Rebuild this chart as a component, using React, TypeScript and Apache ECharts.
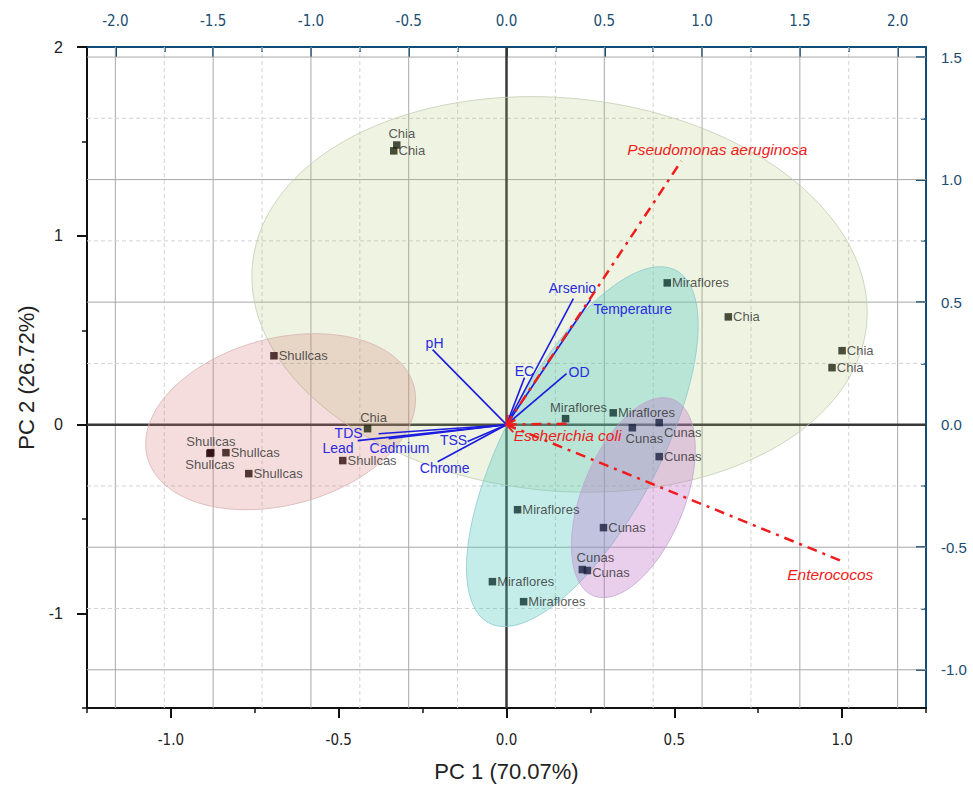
import React, { useEffect, useRef } from "react";
import * as echarts from "echarts";

// ---------- data ----------
const groupNames = ["Chia", "Shullcas", "Miraflores", "Cunas"];

const chiaScores = [[-0.327, 1.481], [-0.336, 1.45], [0.661, 0.571], [1.0, 0.392], [0.97, 0.302], [-0.414, -0.021]];
const shullcasScores = [[-0.693, 0.365], [-0.881, -0.148], [-0.884, -0.152], [-0.836, -0.148], [-0.768, -0.259], [-0.488, -0.19]];
const mirafloresScores = [[0.479, 0.751], [0.176, 0.032], [0.318, 0.063], [0.033, -0.45], [-0.042, -0.831], [0.051, -0.937]];
const cunasScores = [[0.375, -0.016], [0.455, 0.011], [0.455, -0.169], [0.289, -0.545], [0.226, -0.767], [0.241, -0.772]];

const variableNames = ["pH", "EC", "Arsenio", "Temperature", "OD", "TDS", "Lead", "Cadmium", "TSS", "Chrome"];
const variableLoadings = [[-0.378, 0.306], [0.092, 0.192], [0.342, 0.514], [0.429, 0.51], [0.307, 0.208], [-0.654, -0.037], [-0.761, -0.065], [-0.603, -0.057], [-0.199, -0.069], [-0.352, -0.151]];
const bacteriaNames = ["Pseudomonas aeruginosa", "Escherichia coli", "Enterococos"];
const bacteriaLoadings = [[0.894, 1.076], [0.312, 0.004], [1.722, -0.559]];

// confidence ellipses (PC1/PC2 units): centre and two conjugate semi-axis vectors
const ellipseCenters = [[0.158, 0.69], [-0.673, 0.016], [0.226, -0.116], [0.378, -0.386]];
const ellipseAxisU = [[0.915, -0.16], [0.397, 0.189], [0.279, 0.933], [0.1186, 0.5194]];
const ellipseAxisV = [[0.0574, 1.035], [-0.0643, 0.426], [-0.203, 0.192], [-0.1413, 0.1019]];

const pc1Ticks = [-1, -0.5, 0, 0.5, 1];
const pc1Minor = [-1.25, -0.75, -0.25, 0.25, 0.75, 1.25];
const pc2Ticks = [-1, 0, 1, 2];
const pc2Minor = [-1.5, -0.5, 0.5, 1.5];
const topTicks = [-2, -1.5, -1, -0.5, 0, 0.5, 1, 1.5, 2];
const topMinor = [-1.75, -1.25, -0.75, -0.25, 0.25, 0.75, 1.25, 1.75];
const rightTicks = [-1, -0.5, 0, 0.5, 1, 1.5];
const rightMinor = [-0.75, -0.25, 0.25, 0.75, 1.25];

// ---------- styles ----------
const FONT = '"Liberation Sans", Arial, sans-serif';
const NARROW = '"Liberation Sans Narrow", "Arial Narrow", "DejaVu Sans Condensed", "Liberation Sans", Arial, sans-serif';
const BLUE_AXIS = "#0f4d78";
const BLUE_TEXT = "#1b4d72";
const markerColors = ["#1c2410", "#2b0b0b", "#10302c", "#1c2040"];
const ellipseFill = ["rgba(170,198,105,0.2)", "rgba(210,120,115,0.25)", "rgba(70,200,190,0.32)", "rgba(190,110,200,0.33)"];
const ellipseStroke = ["rgba(195,205,180,0.8)", "rgba(215,180,180,0.8)", "rgba(140,200,210,0.8)", "rgba(190,165,210,0.8)"];

type Place = { pos: string; off?: number[] };
const chiaPlace: Place[] = [{ pos: "top", off: [5, 0] }, { pos: "right" }, { pos: "right" }, { pos: "right" }, { pos: "right" }, { pos: "top", off: [6, 0] }];
const shullcasPlace: Place[] = [{ pos: "right" }, { pos: "top" }, { pos: "bottom" }, { pos: "right" }, { pos: "right" }, { pos: "right" }];
const mirafloresPlace: Place[] = [{ pos: "right" }, { pos: "top", off: [13, 0] }, { pos: "right" }, { pos: "right" }, { pos: "right" }, { pos: "right" }];
const cunasPlace: Place[] = [{ pos: "bottom", off: [12, 0] }, { pos: "right", off: [0, 10] }, { pos: "right" }, { pos: "right" }, { pos: "top", off: [13, -1] }, { pos: "right", off: [0, 2] }];

// text offsets (px) from vector tip: dx, dy, align
const varLabelOffset: [number, number, string][] = [
  [2, -7, "center"], [0, -7, "center"], [-1, -11, "center"], [3, 9, "left"], [2, -2, "left"],
  [-16, -1, "right"], [-4, 7, "right"], [11, 9, "center"], [-14, -2, "center"], [7, 6, "center"],
];
const bactLabelOffset: [number, number, string][] = [[36, -11, "center"], [0, 12, "center"], [-13, 13, "center"]];

function scatterSeries(name: string, pts: number[][], place: Place[], color: string) {
  return {
    type: "scatter",
    name,
    xAxisIndex: 0,
    yAxisIndex: 0,
    z: 5,
    symbol: "rect",
    symbolSize: 7.5,
    itemStyle: { color },
    label: { show: true, formatter: name, fontSize: 13, fontFamily: FONT, color: "#2e2e2e", distance: 1 },
    data: pts.map((p, i) => ({
      value: p,
      label: { position: place[i].pos, offset: place[i].off || [0, 0] },
    })),
  };
}

export default function App() {
  const ref = useRef<HTMLDivElement>(null);
  useEffect(() => {
    if (!ref.current) return;
    const chart = echarts.init(ref.current, undefined, { renderer: "svg" });

    const vGrid = [...topTicks.filter((v) => v !== 0).map((v) => [v, 0, 1]), ...topMinor.map((v) => [v, 0, 0])];
    const hGrid = [...rightTicks.filter((v) => v !== 0).map((v) => [0, v, 1]), ...rightMinor.map((v) => [0, v, 0])];

    const option: any = {
      animation: false,
      backgroundColor: "#ffffff",
      grid: { left: 87, right: 47, top: 47, bottom: 78, containLabel: false, outerBoundsMode: "none" },
      xAxis: [
        {
          type: "value", position: "bottom", min: -1.25, max: 1.25,
          name: "PC 1 (70.07%)", nameLocation: "middle", nameGap: 52,
          nameTextStyle: { fontSize: 22, color: "#222", fontFamily: FONT },
          axisLine: { show: true, onZero: false, lineStyle: { color: "#111", width: 2 } },
          axisTick: { show: true, inside: false, length: 10, customValues: pc1Ticks, lineStyle: { color: "#111", width: 2 } },
          axisLabel: { show: true, customValues: pc1Ticks, formatter: (v: number) => v.toFixed(1), margin: 24, fontSize: 15, fontFamily: NARROW, color: "#222" },
          splitLine: { show: false },
        },
        {
          type: "value", position: "top", min: -2.145, max: 2.145,
          axisLine: { show: true, onZero: false, lineStyle: { color: BLUE_AXIS, width: 2 } },
          axisTick: { show: true, inside: true, length: 10, customValues: topTicks, lineStyle: { color: BLUE_AXIS, width: 2 } },
          axisLabel: { show: true, customValues: topTicks, formatter: (v: number) => v.toFixed(1), margin: 19, fontSize: 15, fontFamily: NARROW, color: BLUE_TEXT },
          splitLine: { show: false },
        },
        {
          type: "value", position: "bottom", min: -1.25, max: 1.25,
          axisLine: { show: false, onZero: false },
          axisTick: { show: true, inside: false, length: 5, customValues: pc1Minor, lineStyle: { color: "#111", width: 1.5 } },
          axisLabel: { show: false }, splitLine: { show: false },
        },
        {
          type: "value", position: "top", min: -2.145, max: 2.145,
          axisLine: { show: false, onZero: false },
          axisTick: { show: true, inside: true, length: 5, customValues: topMinor, lineStyle: { color: BLUE_AXIS, width: 1.5 } },
          axisLabel: { show: false }, splitLine: { show: false },
        },
      ],
      yAxis: [
        {
          type: "value", position: "left", min: -1.5, max: 2,
          name: "PC 2 (26.72%)", nameLocation: "middle", nameGap: 48,
          nameTextStyle: { fontSize: 22, color: "#222", fontFamily: FONT },
          axisLine: { show: true, onZero: false, lineStyle: { color: "#111", width: 2 } },
          axisTick: { show: true, inside: false, length: 10, customValues: pc2Ticks, lineStyle: { color: "#111", width: 2 } },
          axisLabel: { show: true, customValues: pc2Ticks, formatter: (v: number) => String(v), margin: 24, fontSize: 16, fontFamily: FONT, color: "#222" },
          splitLine: { show: false },
        },
        {
          type: "value", position: "right", min: -1.156, max: 1.541,
          axisLine: { show: true, onZero: false, lineStyle: { color: BLUE_AXIS, width: 2 } },
          axisTick: { show: true, inside: true, length: 10, customValues: rightTicks, lineStyle: { color: BLUE_AXIS, width: 2 } },
          axisLabel: { show: true, customValues: rightTicks, formatter: (v: number) => v.toFixed(1), margin: 15, fontSize: 15, fontFamily: FONT, color: BLUE_TEXT },
          splitLine: { show: false },
        },
        {
          type: "value", position: "left", min: -1.5, max: 2,
          axisLine: { show: false, onZero: false },
          axisTick: { show: true, inside: false, length: 5, customValues: pc2Minor, lineStyle: { color: "#111", width: 1.5 } },
          axisLabel: { show: false }, splitLine: { show: false },
        },
        {
          type: "value", position: "right", min: -1.156, max: 1.541,
          axisLine: { show: false, onZero: false },
          axisTick: { show: true, inside: true, length: 5, customValues: rightMinor, lineStyle: { color: BLUE_AXIS, width: 1.5 } },
          axisLabel: { show: false }, splitLine: { show: false },
        },
      ],
      series: [
        // vertical grid lines (top axis)
        {
          type: "custom", xAxisIndex: 1, yAxisIndex: 1, z: 1, silent: true,
          data: vGrid,
          renderItem: (params: any, api: any) => {
            const x = api.coord([api.value(0), 0])[0];
            const cs = params.coordSys;
            const major = api.value(2) === 1;
            return {
              type: "line",
              shape: { x1: x, y1: cs.y, x2: x, y2: cs.y + cs.height },
              style: { stroke: major ? "#a8a8a8" : "#d2d2d2", lineWidth: 1, lineDash: major ? null : [4, 3] },
            };
          },
        },
        // horizontal grid lines (right axis)
        {
          type: "custom", xAxisIndex: 1, yAxisIndex: 1, z: 1, silent: true,
          data: hGrid,
          renderItem: (params: any, api: any) => {
            const y = api.coord([0, api.value(1)])[1];
            const cs = params.coordSys;
            const major = api.value(2) === 1;
            return {
              type: "line",
              shape: { x1: cs.x, y1: y, x2: cs.x + cs.width, y2: y },
              style: { stroke: major ? "#a8a8a8" : "#d2d2d2", lineWidth: 1, lineDash: major ? null : [4, 3] },
            };
          },
        },
        // zero lines
        {
          type: "custom", xAxisIndex: 0, yAxisIndex: 0, z: 1, silent: true,
          data: [[0, 0, 0], [0, 0, 1]],
          renderItem: (params: any, api: any) => {
            const p = api.coord([0, 0]);
            const cs = params.coordSys;
            const vertical = api.value(2) === 0;
            return {
              type: "line",
              shape: vertical
                ? { x1: p[0], y1: cs.y, x2: p[0], y2: cs.y + cs.height }
                : { x1: cs.x, y1: p[1], x2: cs.x + cs.width, y2: p[1] },
              style: { stroke: "#383838", lineWidth: 2.5 },
            };
          },
        },
        // ellipses
        {
          type: "custom", xAxisIndex: 0, yAxisIndex: 0, z: 2, silent: true,
          data: ellipseCenters.map((c) => [c[0], c[1]]),
          renderItem: (params: any, api: any) => {
            const i = params.dataIndex;
            const c = ellipseCenters[i];
            const u = ellipseAxisU[i];
            const v = ellipseAxisV[i];
            const pts: number[][] = [];
            const n = 160;
            for (let k = 0; k < n; k++) {
              const t = (k / n) * Math.PI * 2;
              pts.push(api.coord([
                c[0] + Math.cos(t) * u[0] + Math.sin(t) * v[0],
                c[1] + Math.cos(t) * u[1] + Math.sin(t) * v[1],
              ]));
            }
            return {
              type: "polygon",
              shape: { points: pts },
              style: { fill: ellipseFill[i], stroke: ellipseStroke[i], lineWidth: 1 },
            };
          },
        },
        // variable loadings (blue)
        {
          type: "custom", xAxisIndex: 1, yAxisIndex: 1, z: 3, silent: true,
          data: variableLoadings,
          renderItem: (params: any, api: any) => {
            const i = params.dataIndex;
            const o = api.coord([0, 0]);
            const p = api.coord([api.value(0), api.value(1)]);
            const off = varLabelOffset[i];
            return {
              type: "group",
              children: [
                { type: "line", shape: { x1: o[0], y1: o[1], x2: p[0], y2: p[1] }, style: { stroke: "#1c1ce0", lineWidth: 1.6 } },
                {
                  type: "text", x: p[0] + off[0], y: p[1] + off[1],
                  style: { text: variableNames[i], fill: "#2a2ae0", fontSize: 14, fontFamily: FONT, align: off[2], verticalAlign: "middle" },
                },
              ],
            };
          },
        },
        // bacteria loadings (red dash-dot)
        {
          type: "custom", xAxisIndex: 1, yAxisIndex: 1, z: 3, silent: true,
          data: bacteriaLoadings,
          renderItem: (params: any, api: any) => {
            const i = params.dataIndex;
            const o = api.coord([0, 0]);
            const p = api.coord([api.value(0), api.value(1)]);
            const off = bactLabelOffset[i];
            const ang = Math.atan2(p[1] - o[1], p[0] - o[0]);
            const hl = 10;
            const a1 = ang + 0.45;
            const a2 = ang - 0.45;
            return {
              type: "group",
              children: [
                {
                  type: "line", shape: { x1: o[0], y1: o[1], x2: p[0], y2: p[1] },
                  style: { stroke: "#ee1c1c", lineWidth: 2.5, lineDash: [10, 6, 3, 6] },
                },
                {
                  type: "polyline",
                  shape: { points: [[o[0] + hl * Math.cos(a1), o[1] + hl * Math.sin(a1)], [o[0], o[1]], [o[0] + hl * Math.cos(a2), o[1] + hl * Math.sin(a2)]] },
                  style: { stroke: "#ee1c1c", lineWidth: 1.8, fill: "none" },
                },
                {
                  type: "text", x: p[0] + off[0], y: p[1] + off[1],
                  style: { text: bacteriaNames[i], fill: "#ee1c1c", fontSize: 15.5, fontStyle: "italic", fontFamily: FONT, align: off[2], verticalAlign: "middle" },
                },
              ],
            };
          },
        },
        scatterSeries(groupNames[0], chiaScores, chiaPlace, markerColors[0]),
        scatterSeries(groupNames[1], shullcasScores, shullcasPlace, markerColors[1]),
        scatterSeries(groupNames[2], mirafloresScores, mirafloresPlace, markerColors[2]),
        scatterSeries(groupNames[3], cunasScores, cunasPlace, markerColors[3]),
      ],
    };

    chart.setOption(option);
    return () => chart.dispose();
  }, []);

  return <div ref={ref} style={{ position: "fixed", left: 0, top: 0, width: 973, height: 786, background: "#fff" }} />;
}
